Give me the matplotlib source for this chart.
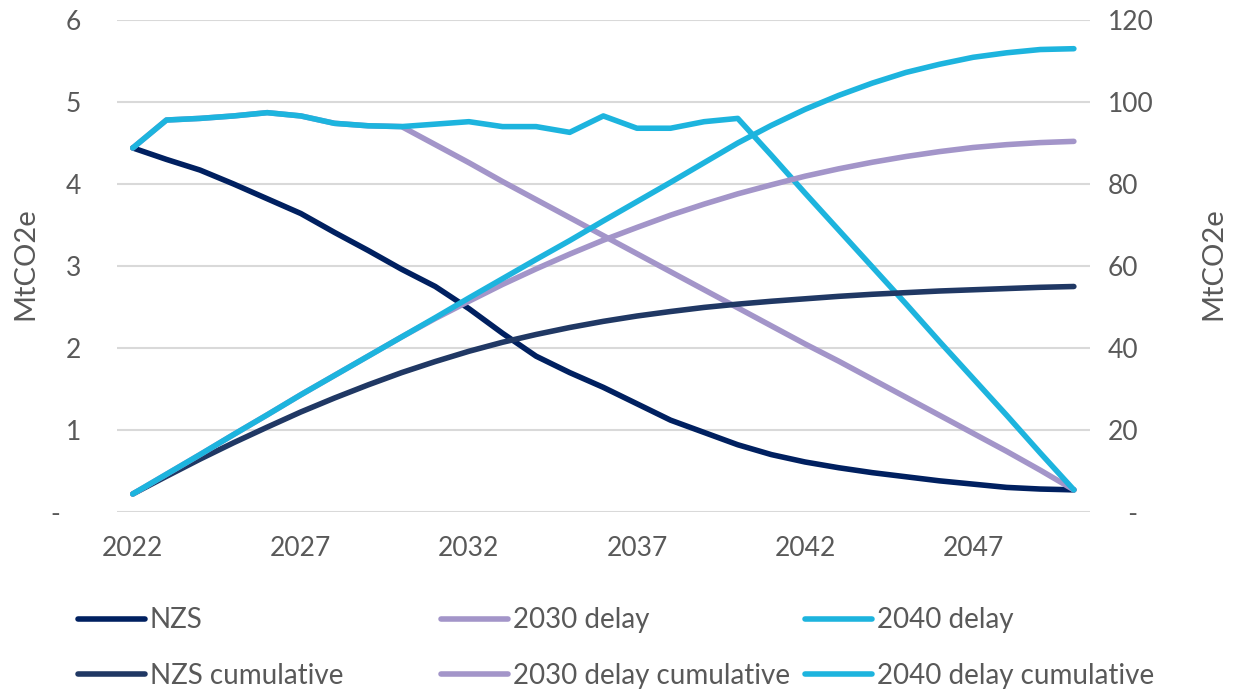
import matplotlib.pyplot as plt
from matplotlib.ticker import FixedLocator, FuncFormatter

# data (MtCO2e)
years = list(range(2022, 2051))

nzs = [4.44, 4.30, 4.17, 4.00, 3.82, 3.64, 3.41, 3.19, 2.96, 2.75,
       2.48, 2.18, 1.90, 1.70, 1.52, 1.32, 1.12, 0.97, 0.82, 0.70,
       0.61, 0.54, 0.48, 0.43, 0.38, 0.34, 0.30, 0.28, 0.27]

delay_2030 = [4.44, 4.78, 4.80, 4.83, 4.87, 4.83, 4.74, 4.71, 4.70, 4.48,
              4.26, 4.03, 3.81, 3.59, 3.37, 3.15, 2.93, 2.71, 2.49, 2.27,
              2.05, 1.84, 1.62, 1.40, 1.18, 0.96, 0.74, 0.51, 0.27]

delay_2040 = [4.44, 4.78, 4.80, 4.83, 4.87, 4.83, 4.74, 4.71, 4.70, 4.73,
              4.76, 4.70, 4.70, 4.63, 4.83, 4.68, 4.68, 4.76, 4.80, 4.35,
              3.89, 3.44, 2.99, 2.54, 2.08, 1.63, 1.18, 0.72, 0.27]

nzs_cum = [4.4, 8.7, 12.9, 16.9, 20.7, 24.4, 27.8, 31.0, 34.0, 36.7,
           39.2, 41.4, 43.3, 45.0, 46.5, 47.8, 48.9, 49.9, 50.7, 51.4,
           52.0, 52.6, 53.1, 53.5, 53.9, 54.2, 54.5, 54.8, 55.0]

delay_2030_cum = [4.4, 9.2, 14.0, 18.9, 23.7, 28.6, 33.3, 38.0, 42.7, 47.2,
                  51.4, 55.5, 59.3, 62.9, 66.3, 69.4, 72.4, 75.1, 77.6, 79.8,
                  81.9, 83.7, 85.3, 86.7, 87.9, 88.9, 89.6, 90.1, 90.4]

delay_2040_cum = [4.4, 9.2, 14.0, 18.9, 23.7, 28.6, 33.3, 38.0, 42.7, 47.4,
                  52.2, 56.9, 61.6, 66.2, 71.0, 75.7, 80.4, 85.2, 90.0, 94.3,
                  98.2, 101.6, 104.6, 107.2, 109.2, 110.9, 112.0, 112.8, 113.0]

x_ticks = [2022, 2027, 2032, 2037, 2042, 2047]

c_nzs = "#002060"
c_nzs_cum = "#203864"
c_2030 = "#A395C9"
c_2040 = "#1DB4DE"
grey = "#595959"

plt.rcParams["font.family"] = ["Lato", "DejaVu Sans"]

fig = plt.figure(figsize=(12.33, 6.93), dpi=100)
ax = fig.add_axes([117 / 1233, 1 - 512 / 693, (1090 - 117) / 1233, (512 - 20) / 693])
ax2 = ax.twinx()

kw = dict(lw=4.0, solid_capstyle="round", solid_joinstyle="round")
l1, = ax.plot(years, nzs, color=c_nzs, **kw)
l2, = ax.plot(years, delay_2030, color=c_2030, **kw)
l3, = ax.plot(years, delay_2040, color=c_2040, **kw)
l4, = ax2.plot(years, nzs_cum, color=c_nzs_cum, **kw)
l5, = ax2.plot(years, delay_2030_cum, color=c_2030, **kw)
l6, = ax2.plot(years, delay_2040_cum, color=c_2040, **kw)

ax.set_xlim(2021.53, 2050.48)
ax.set_ylim(0, 6)
ax2.set_ylim(0, 120)
ax.xaxis.set_major_locator(FixedLocator(x_ticks))
ax.yaxis.set_major_locator(FixedLocator(range(0, 7)))
ax2.yaxis.set_major_locator(FixedLocator(range(0, 121, 20)))
ax.yaxis.set_major_formatter(FuncFormatter(lambda v, p: "-   " if v == 0 else f"{v:.0f}"))
ax2.yaxis.set_major_formatter(FuncFormatter(lambda v, p: "   -" if v == 0 else f"{v:.0f}"))

ax.grid(axis="y", color="#D9D9D9", lw=1.5)
ax.set_axisbelow(True)
for a in (ax, ax2):
    for s in a.spines.values():
        s.set_visible(False)
    a.tick_params(length=0, labelsize=19, colors=grey)
ax.tick_params(axis="y", pad=26)
ax.tick_params(axis="x", pad=17)
ax2.tick_params(axis="y", pad=13)

fig.text(25 / 1233, 1 - 264 / 693, "MtCO2e", rotation=90, ha="center", va="center",
         fontsize=21, color=grey)
fig.text(1213 / 1233, 1 - 264 / 693, "MtCO2e", rotation=90, ha="center", va="center",
         fontsize=21, color=grey)

# legend: three fixed-width columns, two rows
cols = [([l1, l4], ["NZS", "NZS cumulative"], 78),
        ([l2, l5], ["2030 delay", "2030 delay cumulative"], 441),
        ([l3, l6], ["2040 delay", "2040 delay cumulative"], 805)]
for handles, labels, xpos in cols:
    fig.legend(handles, labels, loc="center left",
               bbox_to_anchor=(xpos / 1233, 1 - 648 / 693),
               frameon=False, fontsize=20, labelcolor=grey,
               handlelength=2.4, handletextpad=0.18, labelspacing=1.05,
               borderpad=0, borderaxespad=0)

fig.savefig("out.png", dpi=100)
